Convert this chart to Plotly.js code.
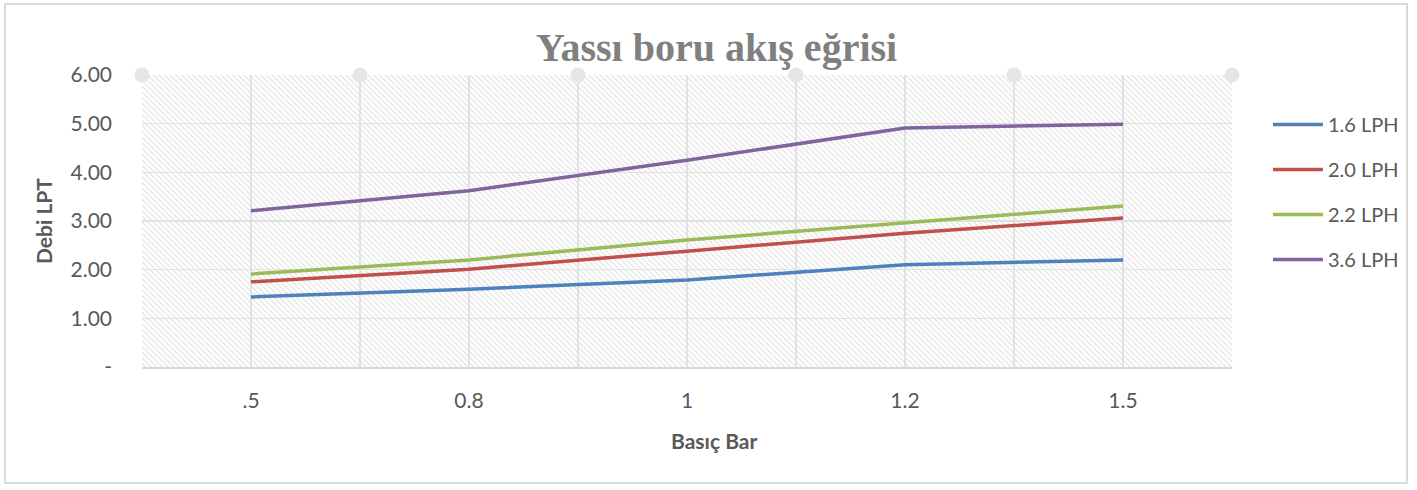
<!DOCTYPE html>
<html>
<head>
<meta charset="utf-8">
<script src="https://cdn.plot.ly/plotly-3.0.1.min.js"></script>
<style>
html,body{margin:0;padding:0;background:#fff;}
#frame{position:absolute;left:4px;top:3px;width:1404px;height:481px;border:2px solid #d9d9d9;box-sizing:border-box;}
#chart{position:absolute;left:0;top:0;width:1417px;height:490px;}
</style>
</head>
<body>
<div id="frame"></div>
<div id="chart"></div>
<script>
const categories = [".5", "0.8", "1", "1.2", "1.5"];
const s16 = [1.44, 1.60, 1.79, 2.10, 2.20];
const s20 = [1.75, 2.01, 2.38, 2.75, 3.06];
const s22 = [1.91, 2.20, 2.61, 2.96, 3.31];
const s36 = [3.21, 3.62, 4.25, 4.91, 4.99];
const seriesNames = ["1.6 LPH", "2.0 LPH", "2.2 LPH", "3.6 LPH"];
const seriesColors = ["#4f81bd", "#c0504d", "#9bbb59", "#8064a2"];
const yTickVals = [0, 1, 2, 3, 4, 5, 6];
const yTickText = ["-", "1.00", "2.00", "3.00", "4.00", "5.00", "6.00"];
const yMax = 6;

const idx = categories.map((_, i) => i);
const lo = -0.5, hi = categories.length - 0.5;
const bounds = [];
for (let i = 0; i <= categories.length; i++) bounds.push(i - 0.5);

const hatch = {
  x: [lo, hi, hi, lo, lo],
  y: [0, 0, yMax, yMax, 0],
  mode: "lines",
  line: {width: 0},
  fill: "toself",
  fillcolor: "rgba(0,0,0,0)",
  fillpattern: {shape: "\\", fgcolor: "#dcdcdc", bgcolor: "rgba(0,0,0,0)", size: 4, solidity: 0.25},
  hoverinfo: "skip",
  showlegend: false
};

const dots = {
  x: bounds,
  y: bounds.map(() => yMax),
  mode: "markers",
  marker: {size: 15, color: "#e6e6e6"},
  cliponaxis: false,
  hoverinfo: "skip",
  showlegend: false
};

const data = [s16, s20, s22, s36];
const lines = data.map((vals, k) => ({
  x: idx,
  y: vals,
  name: seriesNames[k],
  legendgroup: "g" + k,
  mode: "lines",
  line: {color: seriesColors[k], width: 3.5},
  cliponaxis: false
}));

const layout = {
  width: 1417,
  height: 490,
  margin: {l: 142, r: 185, t: 75, b: 123},
  paper_bgcolor: "rgba(0,0,0,0)",
  plot_bgcolor: "rgba(0,0,0,0)",
  font: {family: "Lato, 'Open Sans', sans-serif", color: "#595959", size: 20},
  showlegend: true,
  legend: {
    x: 1.033, y: 0.897, xanchor: "left", yanchor: "top",
    font: {size: 20, color: "#595959"},
    tracegroupgap: 16,
    itemwidth: 50,
    bgcolor: "rgba(0,0,0,0)"
  },
  xaxis: {
    type: "linear",
    range: [lo, hi],
    tickmode: "array",
    tickvals: idx,
    ticktext: categories,
    showgrid: true,
    gridcolor: "#e3e3e3",
    gridwidth: 1.5,
    minor: {tickmode: "array", tickvals: bounds, showgrid: true, gridcolor: "#e3e3e3", gridwidth: 1.5, ticklen: 0},
    showline: true,
    linecolor: "#d9d9d9",
    linewidth: 2,
    zeroline: false,
    ticks: "",
    ticklabelstandoff: 14,
    tickfont: {size: 21, color: "#595959"},
    fixedrange: true
  },
  yaxis: {
    range: [0, yMax],
    tickmode: "array",
    tickvals: yTickVals,
    ticktext: yTickText,
    showgrid: true,
    gridcolor: "#e3e3e3",
    gridwidth: 1.5,
    zeroline: false,
    showline: false,
    ticks: "",
    ticklabelstandoff: 29,
    tickfont: {size: 21, color: "#595959"},
    title: {text: "Debi LPT", font: {size: 21, color: "#595959", weight: "bold"}, standoff: 12},
    fixedrange: true
  },
  annotations: [
    {text: "Yassı boru akış eğrisi", xref: "paper", yref: "paper", x: 0.527, y: 1.0, yanchor: "bottom", xanchor: "center",
     yshift: 3, showarrow: false, font: {family: "'Liberation Serif', 'DejaVu Serif', serif", size: 40, color: "#808080", weight: "bold"}},
    {text: "Basıç Bar", xref: "paper", yref: "paper", x: 0.525, y: 0, yanchor: "middle", xanchor: "center",
     yshift: -73, showarrow: false, font: {size: 21, color: "#595959", weight: "bold"}}
  ]
};

Plotly.newPlot("chart", [hatch, dots].concat(lines), layout, {displayModeBar: false, staticPlot: true});
</script>
</body>
</html>
